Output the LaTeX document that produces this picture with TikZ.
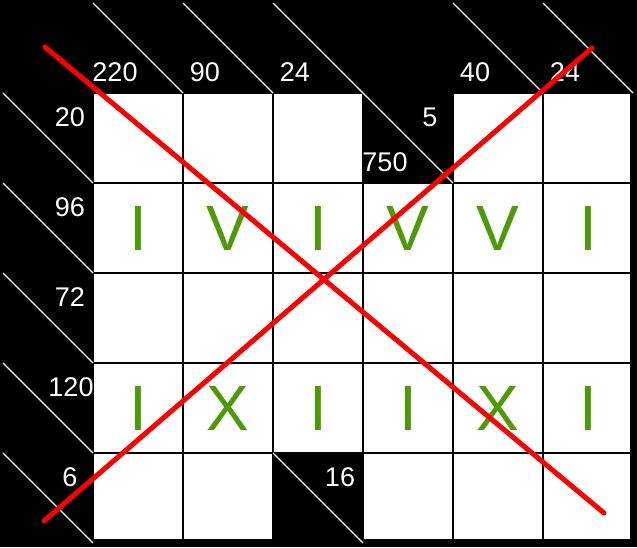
\documentclass[tikz,border=0pt]{standalone}
\usepackage{fontspec}
\setmainfont{Liberation Sans}
\definecolor{letgreen}{HTML}{4E9A06}
\definecolor{crossred}{HTML}{FF0000}
\begin{document}
\begin{tikzpicture}[x=1pt,y=-1pt,
  clue/.style={text=white,font=\fontsize{27}{27}\selectfont,inner sep=0pt},
  letter/.style={text=letgreen,font=\fontsize{64}{64}\selectfont,inner sep=0pt},
  cellbox/.style={fill=white,draw=black,line width=1.5pt},
  diag/.style={draw=white,line width=1.3pt},
  cross/.style={draw=crossred,line width=5pt,line cap=round}]
\fill[black] (0,0) rectangle (637,547);
\useasboundingbox (0,0) rectangle (637,547);
% white cells
\foreach \c/\r in {1/1,2/1,3/1,5/1,6/1,
                   1/2,2/2,3/2,4/2,5/2,6/2,
                   1/3,2/3,3/3,4/3,5/3,6/3,
                   1/4,2/4,3/4,4/4,5/4,6/4,
                   1/5,2/5,4/5,5/5,6/5}
  \draw[cellbox] ({3+90*\c},{3+90*\r}) rectangle ({93+90*\c},{93+90*\r});
% outer frame
\fill[black] (630,0) rectangle (637,547);
\fill[black] (0,539) rectangle (637,547);
% diagonals
\foreach \c in {1,2,3,5,6}
  \draw[diag] ({3+90*\c},3) -- ({93+90*\c},93);
\foreach \r in {1,...,5}
  \draw[diag] (3,{3+90*\r}) -- (93,{93+90*\r});
\draw[diag] (363,93) -- (453,183);
\draw[diag] (273,453) -- (363,543);
% column clues
\node[clue] (c1) at (115,72) {220};
\node[clue] (c2) at (205,72) {90};
\node[clue] (c3) at (295,72) {24};
\node[clue] (c5) at (475,72) {40};
\node[clue] (c6) at (565,72) {24};
\node[clue] (c4) at (385,162) {750};
% row clues
\node[clue] (r1) at (70,117) {20};
\node[clue] (r2) at (70,207) {96};
\node[clue] (r3) at (70,297) {72};
\node[clue] (r4) at (71,387) {120};
\node[clue] (r5) at (70,477) {6};
\node[clue] (r1b) at (430,117) {5};
\node[clue] (r5b) at (340,477) {16};
% letters
\node[letter] (a1) at (138,228) {I};
\node[letter] (a2) at (228,228) {V};
\node[letter] (a3) at (318,228) {I};
\node[letter] (a4) at (408,228) {V};
\node[letter] (a5) at (498,228) {V};
\node[letter] (a6) at (588,228) {I};
\node[letter] (b1) at (138,408) {I};
\node[letter] (b2) at (228,408) {X};
\node[letter] (b3) at (318,408) {I};
\node[letter] (b4) at (408,408) {I};
\node[letter] (b5) at (498,408) {X};
\node[letter] (b6) at (588,408) {I};
% red cross
\coordinate (p1) at (45,47);
\coordinate (p2) at (604,513);
\coordinate (q1) at (592,48);
\coordinate (q2) at (44,521);
\draw[cross] (p1) -- (p2);
\draw[cross] (q1) -- (q2);
\end{tikzpicture}
\end{document}
